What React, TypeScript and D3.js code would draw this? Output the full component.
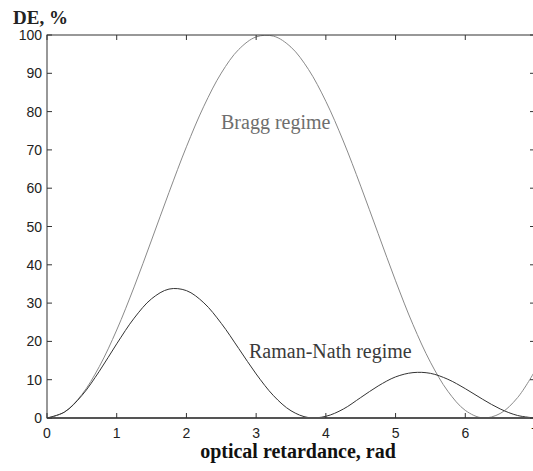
import React from "react";
import * as d3 from "d3";

const xValues = [0, 0.25, 0.5, 0.75, 1, 1.25, 1.5, 1.75, 2, 2.25, 2.5, 2.75, 3, 3.25, 3.5, 3.75, 4, 4.25, 4.5, 4.75, 5, 5.25, 5.5, 5.75, 6, 6.25, 6.5, 6.75, 7];
const braggValues = [0, 1.55, 6.12, 13.42, 22.98, 34.23, 46.46, 58.9, 70.81, 81.41, 90.06, 96.22, 99.5, 99.7, 96.83, 91.03, 82.68, 72.32, 60.54, 48.15, 35.82, 24.37, 14.57, 6.99, 1.99, 0.03, 1.17, 5.32, 12.31];
const ramanNathValues = [0, 1.54, 5.87, 12.19, 19.37, 26.07, 31.13, 33.66, 33.26, 30.07, 24.71, 18.15, 11.5, 5.81, 1.89, 0.11, 0.44, 2.33, 5.34, 8.36, 10.73, 11.85, 11.66, 10.11, 7.66, 4.88, 2.37, 0.66, 0];
const xTicks = [0, 1, 2, 3, 4, 5, 6, 7];
const yTicks = [0, 10, 20, 30, 40, 50, 60, 70, 80, 90, 100];

const W = 533;
const H = 471;
const left = 47;
const right = 535;
const top = 35;
const bottom = 418;

export default function App() {
  const x = d3.scaleLinear().domain([0, 7]).range([left, right]);
  const y = d3.scaleLinear().domain([0, 100]).range([bottom, top]);
  const line = d3
    .line<number>()
    .x((_, i) => x(xValues[i]))
    .y((d) => y(d))
    .curve(d3.curveCatmullRom.alpha(0.5));
  const tickFont = "'Liberation Sans', Arial, sans-serif";
  const serif = "'Liberation Serif', 'Times New Roman', serif";
  return (
    <svg width={W} height={H} style={{ position: "absolute", left: 0, top: 0, background: "#fff" }}>
      <defs>
        <clipPath id="plot">
          <rect x={left} y={top} width={right - left} height={bottom - top} />
        </clipPath>
      </defs>
      <g clipPath="url(#plot)" fill="none" strokeWidth={1}>
        <path d={line(braggValues) || ""} stroke="#8a8a8a" />
        <path d={line(ramanNathValues) || ""} stroke="#333" />
      </g>
      <rect x={left} y={top} width={right - left} height={bottom - top} fill="none" stroke="#333" strokeWidth={1} />
      <line x1={left} x2={right} y1={bottom} y2={bottom} stroke="#555" strokeWidth={2} />
      {xTicks.map((t) => (
        <g key={"x" + t}>
          <line x1={x(t)} x2={x(t)} y1={bottom} y2={bottom - 5} stroke="#333" />
          <line x1={x(t)} x2={x(t)} y1={top} y2={top + 5} stroke="#333" />
          <text x={x(t)} y={bottom + 20} textAnchor="middle" fontFamily={tickFont} fontSize={14} fill="#222">
            {t}
          </text>
        </g>
      ))}
      {yTicks.map((t) => (
        <g key={"y" + t}>
          <line x1={left} x2={left + 5} y1={y(t)} y2={y(t)} stroke="#333" />
          <line x1={right} x2={right - 5} y1={y(t)} y2={y(t)} stroke="#333" />
          <text x={left - 5} y={y(t) + 5} textAnchor="end" fontFamily={tickFont} fontSize={14} fill="#222">
            {t}
          </text>
        </g>
      ))}
      <text x={13} y={24} fontFamily={serif} fontSize={19} fontWeight="bold" fill="#222">
        DE, %
      </text>
      <text x={298} y={458} textAnchor="middle" fontFamily={serif} fontSize={20} fontWeight="bold" fill="#111">
        optical retardance, rad
      </text>
      <text x={221} y={129} fontFamily={serif} fontSize={20} fill="#6e6e6e">
        Bragg regime
      </text>
      <text x={249} y={358} fontFamily={serif} fontSize={20} fill="#3a3a3a">
        Raman-Nath regime
      </text>
    </svg>
  );
}
